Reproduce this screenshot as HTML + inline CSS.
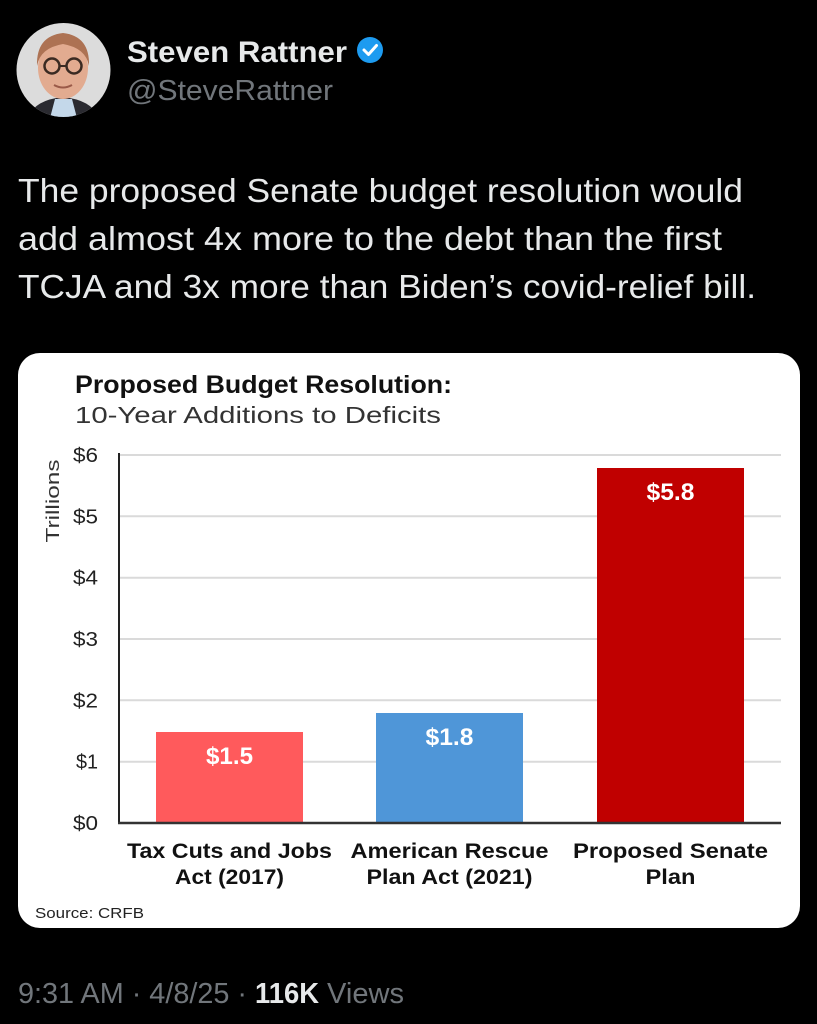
<!DOCTYPE html>
<html><head><meta charset="utf-8"><style>
html,body{margin:0;padding:0;background:#000;}
svg{display:block;}
text{font-family:"Liberation Sans",Arial,sans-serif;}
</style></head><body>
<svg width="817" height="1024" viewBox="0 0 817 1024" xmlns="http://www.w3.org/2000/svg">
<rect width="817" height="1024" fill="#000"/>
<!-- avatar -->
<defs><clipPath id="av"><circle cx="63.5" cy="70" r="47"/></clipPath></defs>
<g clip-path="url(#av)">
<rect x="16" y="23" width="95" height="95" fill="#dcdcdc"/>
<path d="M28 118 Q34 100 63 97 Q92 100 99 118 Z" fill="#2a2a30"/>
<path d="M50 118 L55 99 L72 99 L77 118 Z" fill="#c4d8ea"/>
<ellipse cx="63" cy="68" rx="25" ry="31" fill="#e2ab90"/>
<path d="M37 66 Q36 36 63 33 Q90 36 89 66 Q86 48 63 44 Q40 48 37 66 Z" fill="#ad7253"/>
<circle cx="52" cy="66" r="7.5" fill="none" stroke="#3a2a22" stroke-width="2.5"/>
<circle cx="74" cy="66" r="7.5" fill="none" stroke="#3a2a22" stroke-width="2.5"/>
<path d="M59.5 66 L66.5 66" stroke="#3a2a22" stroke-width="2"/>
<path d="M54 85 Q63 90 72 85" stroke="#9a5a48" stroke-width="2" fill="none"/>
</g>
<text x="127" y="62" font-size="30" font-weight="bold" fill="#e7e9ea" textLength="220" lengthAdjust="spacingAndGlyphs">Steven Rattner</text>
<circle cx="370" cy="50" r="13" fill="#1d9bf0"/>
<path d="M364 50 L368.5 54.5 L376.5 45.5" stroke="#fff" stroke-width="3" fill="none" stroke-linecap="round" stroke-linejoin="round"/>
<text x="127" y="100" font-size="29" fill="#71767b" textLength="206" lengthAdjust="spacingAndGlyphs">@SteveRattner</text>
<!-- tweet text -->
<text x="18" y="202" font-size="33" fill="#e7e9ea" textLength="725" lengthAdjust="spacingAndGlyphs">The proposed Senate budget resolution would</text>
<text x="18" y="250" font-size="33" fill="#e7e9ea" textLength="704" lengthAdjust="spacingAndGlyphs">add almost 4x more to the debt than the first</text>
<text x="18" y="298" font-size="33" fill="#e7e9ea" textLength="738" lengthAdjust="spacingAndGlyphs">TCJA and 3x more than Biden’s covid-relief bill.</text>
<!-- card -->
<rect x="18" y="353" width="782" height="575" rx="22" fill="#fff"/>
<text x="75" y="393" font-size="25" font-weight="bold" fill="#111" textLength="377" lengthAdjust="spacingAndGlyphs">Proposed Budget Resolution:</text>
<text x="75" y="423" font-size="23" fill="#333" textLength="366" lengthAdjust="spacingAndGlyphs">10-Year Additions to Deficits</text>
<text transform="translate(59,501) rotate(-90)" text-anchor="middle" font-size="18" fill="#333" textLength="83" lengthAdjust="spacingAndGlyphs">Trillions</text>
<!-- gridlines -->
<g stroke="#dadada" stroke-width="2">
<line x1="119" x2="781" y1="455" y2="455"/>
<line x1="119" x2="781" y1="516.3" y2="516.3"/>
<line x1="119" x2="781" y1="577.7" y2="577.7"/>
<line x1="119" x2="781" y1="639" y2="639"/>
<line x1="119" x2="781" y1="700.3" y2="700.3"/>
<line x1="119" x2="781" y1="761.7" y2="761.7"/>
</g>
<g font-size="20" fill="#222" text-anchor="end">
<text x="98" y="462" textLength="25" lengthAdjust="spacingAndGlyphs">$6</text>
<text x="98" y="523.3" textLength="25" lengthAdjust="spacingAndGlyphs">$5</text>
<text x="98" y="584.7" textLength="25" lengthAdjust="spacingAndGlyphs">$4</text>
<text x="98" y="646" textLength="25" lengthAdjust="spacingAndGlyphs">$3</text>
<text x="98" y="707.3" textLength="25" lengthAdjust="spacingAndGlyphs">$2</text>
<text x="98" y="768.7" textLength="22" lengthAdjust="spacingAndGlyphs">$1</text>
<text x="98" y="830" textLength="25" lengthAdjust="spacingAndGlyphs">$0</text>
</g>
<!-- bars -->
<rect x="156" y="732" width="147" height="91" fill="#ff5a5c"/>
<rect x="376" y="713" width="147" height="110" fill="#4f96d8"/>
<rect x="597" y="468" width="147" height="355" fill="#c00000"/>
<line x1="119" x2="119" y1="453" y2="824" stroke="#222" stroke-width="2"/>
<line x1="118" x2="781" y1="823" y2="823" stroke="#333" stroke-width="2.5"/>
<g font-size="24" font-weight="bold" fill="#fff" text-anchor="middle">
<text x="229.5" y="764" textLength="47" lengthAdjust="spacingAndGlyphs">$1.5</text>
<text x="449.5" y="745" textLength="48" lengthAdjust="spacingAndGlyphs">$1.8</text>
<text x="670.5" y="500" textLength="48" lengthAdjust="spacingAndGlyphs">$5.8</text>
</g>
<g font-size="21" font-weight="bold" fill="#111" text-anchor="middle">
<text x="229.5" y="858" textLength="205" lengthAdjust="spacingAndGlyphs">Tax Cuts and Jobs</text>
<text x="229.5" y="884" textLength="109" lengthAdjust="spacingAndGlyphs">Act (2017)</text>
<text x="449.5" y="858" textLength="198" lengthAdjust="spacingAndGlyphs">American Rescue</text>
<text x="449.5" y="884" textLength="166" lengthAdjust="spacingAndGlyphs">Plan Act (2021)</text>
<text x="670.5" y="858" textLength="195" lengthAdjust="spacingAndGlyphs">Proposed Senate</text>
<text x="670.5" y="884" textLength="50" lengthAdjust="spacingAndGlyphs">Plan</text>
</g>
<text x="35" y="918" font-size="15" fill="#222" textLength="109" lengthAdjust="spacingAndGlyphs">Source: CRFB</text>
<!-- footer -->
<text x="18" y="1003" font-size="29" fill="#71767b" textLength="229" lengthAdjust="spacingAndGlyphs">9:31 AM · 4/8/25 ·</text>
<text x="255" y="1003" font-size="29" font-weight="bold" fill="#e7e9ea" textLength="64" lengthAdjust="spacingAndGlyphs">116K</text>
<text x="327" y="1003" font-size="29" fill="#71767b" textLength="77" lengthAdjust="spacingAndGlyphs">Views</text>
</svg>
</body></html>
